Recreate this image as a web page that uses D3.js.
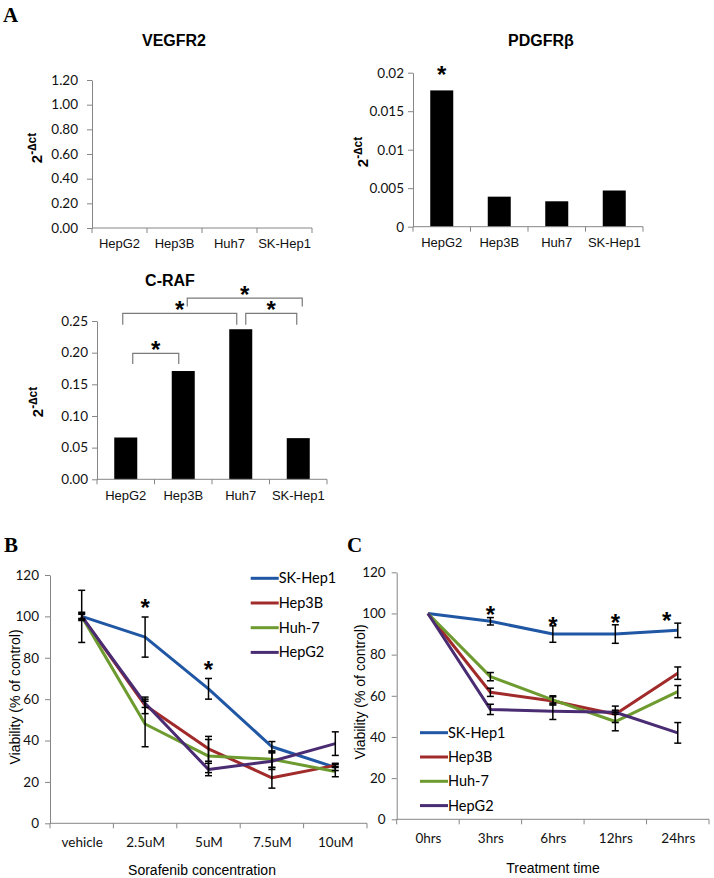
<!DOCTYPE html>
<html>
<head>
<meta charset="utf-8">
<script src="https://cdn.jsdelivr.net/npm/d3@7"></script>
<style>
  body { margin: 0; background: #fff; }
  svg { display: block; }
</style>
</head>
<body>
<svg id="chart" width="714" height="878"></svg>
<script>
// ---- panel A: qPCR expression (2^-dct) ----
var cellLines = ["HepG2", "Hep3B", "Huh7", "SK-Hep1"];
var vegfr2Values = [0, 0, 0, 0];
var vegfr2Ticks = [0, 0.2, 0.4, 0.6, 0.8, 1.0, 1.2];
var pdgfrbValues = [0.0177, 0.0039, 0.0033, 0.0047];
var pdgfrbTicks = [0, 0.005, 0.01, 0.015, 0.02];
var pdgfrbTickLabels = ["0", "0.005", "0.01", "0.015", "0.02"];
var pdgfrbStars = ["HepG2"];
var crafValues = [0.066, 0.171, 0.237, 0.065];
var crafTicks = [0, 0.05, 0.10, 0.15, 0.20, 0.25];
var crafBrackets = [
  {from: "HepG2", to: "Hep3B", top: 0.199, leg: 0.182},
  {from: "HepG2", to: "Huh7", top: 0.262, leg: 0.244},
  {from: "Hep3B", to: "SK-Hep1", top: 0.286, leg: 0.273},
  {from: "Huh7", to: "SK-Hep1", top: 0.262, leg: 0.244}
];

// ---- panels B and C: viability (% of control) ----
var seriesNames = ["SK-Hep1", "Hep3B", "Huh-7", "HepG2"];
var viabilityTicks = [0, 20, 40, 60, 80, 100, 120];

var doseLabels = ["vehicle", "2.5uM", "5uM", "7.5uM", "10uM"];
var doseSkHep1 = [100, 90, 65, 37, 27];
var doseSkHep1Err = [12.6, 9.7, 5, 2.5, 1.5];
var doseHep3B = [100, 57, 36, 22, 28];
var doseHep3BErr = [1.5, 4, 6, 5, 1];
var doseHuh7 = [100, 48, 32.5, 31, 25];
var doseHuh7Err = [2, 11, 8, 4, 2.5];
var doseHepG2 = [100, 58, 26, 30, 38.5];
var doseHepG2Err = [1, 2, 3, 4, 5.7];
var doseStars = [{label: "2.5uM", value: 105.5}, {label: "5uM", value: 75.2}];

var timeLabels = ["0hrs", "3hrs", "6hrs", "12hrs", "24hrs"];
var timeSkHep1 = [100, 96.2, 90, 90, 91.8];
var timeSkHep1Err = [0, 1.8, 4, 4.5, 3.5];
var timeHep3B = [100, 61.7, 57.5, 51, 71];
var timeHep3BErr = [0, 2, 2, 4, 3];
var timeHuh7 = [100, 69.3, 58, 47.5, 62];
var timeHuh7Err = [0, 2, 2, 4.5, 3];
var timeHepG2 = [100, 53.4, 52.5, 52, 42];
var timeHepG2Err = [0, 2.5, 4, 1, 5];
var timeStars = [{label: "3hrs", value: 100.4}, {label: "6hrs", value: 95.5},
                 {label: "12hrs", value: 96.8}, {label: "24hrs", value: 97.6}];

var seriesColors = ["#1f57a4", "#a12a2a", "#6d9b2f", "#4a2c73"];
var axisColor = "#868686";
var tickFont = "Lato, 'Open Sans', sans-serif";
var sansFont = "'Liberation Sans', Arial, sans-serif";

var svg = d3.select("#chart");

/** Panel letters A, B, C in bold serif. */
function panel_letter(txt, x, y) {
   svg.append("text")
      .attr("x", x).attr("y", y)
      .attr("font-family", "'Liberation Serif', 'Times New Roman', serif")
      .attr("font-weight", "bold")
      .attr("font-size", 21)
      .text(txt);
}

/** Draws the left (value) axis with excel-ish grey line and small outward ticks.
 * @param {*} y the linear scale
 * @param {*} x0 pixel position of the axis line
 * @param {*} ticks tick values
 * @param {*} fmt function giving tick label for a value
 * @param {*} pad gap between tick end and label
 */
function value_axis(y, x0, ticks, fmt, pad) {
   var g = svg.append("g")
      .attr("transform", "translate(" + x0 + ",0)")
      .call(d3.axisLeft(y).tickValues(ticks).tickFormat(fmt)
              .tickSize(5).tickSizeOuter(0).tickPadding(pad));
   g.select(".domain").attr("stroke", axisColor);
   g.selectAll(".tick line").attr("stroke", axisColor);
   g.selectAll(".tick text")
      .attr("font-family", tickFont)
      .attr("font-size", 13.5)
      .attr("fill", "#111");
   return g;
}

/** Category axis: labels centred on each category, tick marks between categories. */
function category_axis(x, y0, labelPad, font, size) {
   var g = svg.append("g")
      .attr("transform", "translate(0," + y0 + ")")
      .call(d3.axisBottom(x).tickSize(0).tickPadding(labelPad));
   g.select(".domain").remove();
   g.selectAll(".tick text")
      .attr("font-family", font)
      .attr("font-size", size)
      .attr("fill", "#111");
   var r = x.range();
   g.append("line")
      .attr("x1", r[0]).attr("x2", r[1])
      .attr("stroke", axisColor);
   var step = x.step();
   var first = x.bandwidth() ? r[0] : x(x.domain()[0]) - step / 2;
   var bounds = d3.range(x.domain().length + 1).map(function(i) { return first + i * step; });
   g.selectAll(".sep")
      .data(bounds)
      .enter().append("line")
      .attr("x1", function(d) { return d; })
      .attr("x2", function(d) { return d; })
      .attr("y1", 0).attr("y2", 5)
      .attr("stroke", axisColor);
}

/** Rotated y title "2^-dct". */
function dct_label(cx, cy) {
   var t = svg.append("text")
      .attr("transform", "translate(" + cx + "," + cy + ") rotate(-90)")
      .attr("text-anchor", "middle")
      .attr("font-family", sansFont)
      .attr("font-weight", "bold")
      .attr("font-size", 15);
   t.append("tspan").text("2");
   t.append("tspan").attr("font-size", 12).attr("dy", -6).text("-\u2206ct");
}

// significance star, cy is where the centre of the glyph should sit
function star(x, cy, size) {
   svg.append("text")
      .attr("x", x).attr("y", cy + size * 0.45)
      .attr("text-anchor", "middle")
      .attr("font-family", sansFont)
      .attr("font-weight", "bold")
      .attr("font-size", size)
      .text("*");
}

/** A bar chart of panel A. */
function bar_panel(opts) {
   var x = d3.scaleBand().domain(cellLines)
             .range([opts.left, opts.right])
             .paddingInner(0.6).paddingOuter(0.3);
   var y = d3.scaleLinear().domain([0, opts.max]).range([opts.bottom, opts.top]);

   svg.append("text")
      .attr("x", opts.titleX).attr("y", opts.titleY)
      .attr("text-anchor", "middle")
      .attr("font-family", sansFont)
      .attr("font-weight", "bold")
      .attr("font-size", 16)
      .text(opts.title);

   svg.append("g").selectAll("rect")
      .data(opts.values)
      .enter().append("rect")
      .attr("x", function(d, i) { return x(cellLines[i]); })
      .attr("width", x.bandwidth())
      .attr("y", function(d) { return y(d); })
      .attr("height", function(d) { return y(0) - y(d); })
      .attr("fill", "#000");

   value_axis(y, opts.left, opts.ticks, opts.fmt, opts.pad);
   category_axis(x, opts.bottom, 11, sansFont, 13);
   dct_label(opts.labelX, opts.labelY);
   return {x: x, y: y};
}

/** A line chart with error bars (panels B and C). */
function line_panel(opts) {
   var x = d3.scalePoint().domain(opts.labels)
             .range([opts.left, opts.right]).padding(0.5);
   var y = d3.scaleLinear().domain([0, 120]).range([opts.bottom, opts.top]);

   value_axis(y, opts.left, viabilityTicks, d3.format("d"), 6);
   category_axis(x, opts.bottom, 14, tickFont, 13.5);

   svg.append("text")
      .attr("transform", "translate(" + opts.ylabX + "," + opts.ylabY + ") rotate(-90)")
      .attr("text-anchor", "middle")
      .attr("font-family", sansFont)
      .attr("font-size", 14)
      .text("Viability (% of control)");
   svg.append("text")
      .attr("x", opts.xlabX).attr("y", opts.xlabY)
      .attr("text-anchor", "middle")
      .attr("font-family", sansFont)
      .attr("font-size", 14)
      .text(opts.xTitle);

   var line = d3.line()
      .x(function(d, i) { return x(opts.labels[i]); })
      .y(function(d) { return y(d); });

   opts.series.forEach(function(s, k) {
      svg.append("path")
         .datum(s)
         .attr("fill", "none")
         .attr("stroke", seriesColors[k])
         .attr("stroke-width", 3)
         .attr("stroke-linejoin", "round")
         .attr("d", line);
   });

   opts.errors.forEach(function(err, k) {
      var g = svg.append("g").attr("stroke", "#000").attr("stroke-width", 1.5);
      err.forEach(function(e, i) {
         if (e <= 0) return;
         var cx = x(opts.labels[i]), v = opts.series[k][i];
         g.append("line").attr("x1", cx).attr("x2", cx)
            .attr("y1", y(v + e)).attr("y2", y(v - e));
         [v + e, v - e].forEach(function(w) {
            g.append("line").attr("x1", cx - 3.5).attr("x2", cx + 3.5)
               .attr("y1", y(w)).attr("y2", y(w));
         });
      });
   });

   opts.stars.forEach(function(s, i) {
      var nudge = opts.starNudge ? opts.starNudge[i] : 0;
      star(x(s.label) + nudge, y(s.value), 24);
   });

   // legend
   seriesNames.forEach(function(name, k) {
      var ly = opts.legY + k * opts.legStep;
      svg.append("line")
         .attr("x1", opts.legX).attr("x2", opts.legX + 28)
         .attr("y1", ly).attr("y2", ly)
         .attr("stroke", seriesColors[k]).attr("stroke-width", 3);
      svg.append("text")
         .attr("x", opts.legX + 28).attr("y", ly + 5)
         .attr("font-family", tickFont)
         .attr("font-size", 14.5)
         .text(name);
   });
}

// ---------- A ----------
panel_letter("A", 3, 22);

bar_panel({title: "VEGFR2", titleX: 174, titleY: 46, values: vegfr2Values,
           left: 92, right: 312, top: 80, bottom: 228, max: 1.2,
           ticks: vegfr2Ticks, fmt: d3.format(".2f"), pad: 9,
           labelX: 42, labelY: 148});

var pd = bar_panel({title: "PDGFR\u03b2", titleX: 541, titleY: 46, values: pdgfrbValues,
           left: 413, right: 643, top: 72.7, bottom: 226.7, max: 0.02,
           ticks: pdgfrbTicks, fmt: function(d, i) { return pdgfrbTickLabels[i]; }, pad: 4,
           labelX: 368, labelY: 152});
pdgfrbStars.forEach(function(c) {
   star(pd.x(c) + pd.x.bandwidth() / 2, 72.5, 24);
});

var cr = bar_panel({title: "C-RAF", titleX: 170, titleY: 286, values: crafValues,
           left: 97, right: 327, top: 321, bottom: 479.3, max: 0.25,
           ticks: crafTicks, fmt: d3.format(".2f"), pad: 4,
           labelX: 43, labelY: 402});

// significance brackets: small pixel nudges for each bracket end
var bracketNudge = [[7, -4.5], [-3, -4], [4, 4], [5, -1.5]];
crafBrackets.forEach(function(b, i) {
   var half = cr.x.bandwidth() / 2;
   var x1 = cr.x(b.from) + half + bracketNudge[i][0];
   var x2 = cr.x(b.to) + half + bracketNudge[i][1];
   var yt = cr.y(b.top), yl = cr.y(b.leg);
   svg.append("path")
      .attr("d", "M" + x1 + "," + yl + "V" + yt + "H" + x2 + "V" + yl)
      .attr("fill", "none")
      .attr("stroke", "#7a7a7a")
      .attr("stroke-width", 1.2);
   star((x1 + x2) / 2, yt - 6, 24);
});

// ---------- B ----------
panel_letter("B", 4, 552);
line_panel({labels: doseLabels, left: 50, right: 367, top: 575, bottom: 823.3,
            series: [doseSkHep1, doseHep3B, doseHuh7, doseHepG2],
            errors: [doseSkHep1Err, doseHep3BErr, doseHuh7Err, doseHepG2Err],
            stars: doseStars,
            ylabX: 20, ylabY: 697, xlabX: 202, xlabY: 875, xTitle: "Sorafenib concentration",
            legX: 250.7, legY: 578.3, legStep: 24.7});

// ---------- C ----------
panel_letter("C", 347, 552);
line_panel({labels: timeLabels, left: 396.7, right: 709, top: 572.3, bottom: 819.3,
            series: [timeSkHep1, timeHep3B, timeHuh7, timeHepG2],
            errors: [timeSkHep1Err, timeHep3BErr, timeHuh7Err, timeHepG2Err],
            stars: timeStars, starNudge: [0, 0, 0, -11],
            ylabX: 365, ylabY: 692, xlabX: 553, xlabY: 873, xTitle: "Treatment time",
            legX: 420, legY: 732.7, legStep: 24.3});
</script>
</body>
</html>
